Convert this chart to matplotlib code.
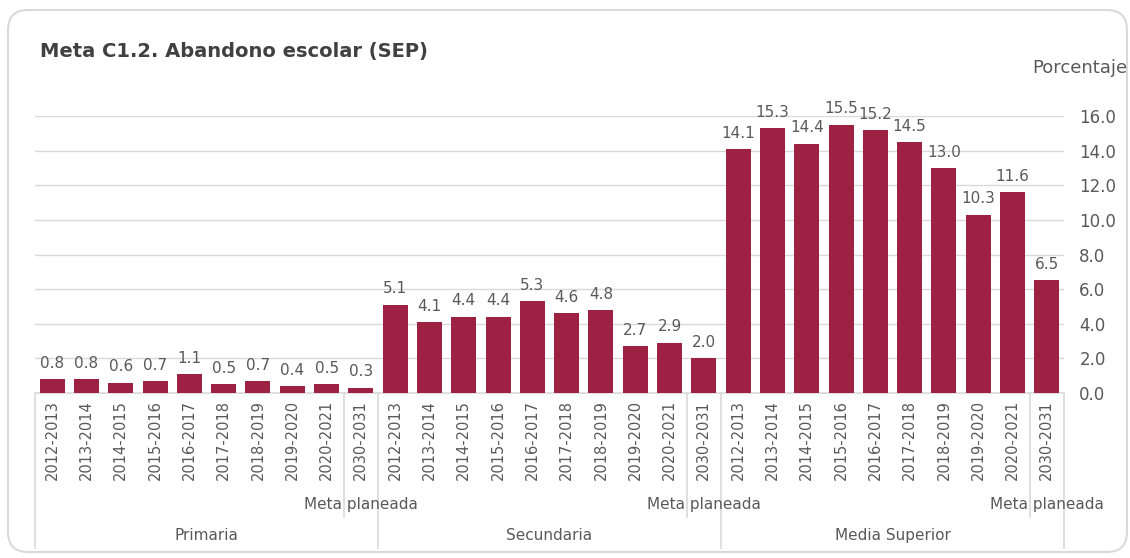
import matplotlib.pyplot as plt
from matplotlib.patches import FancyBboxPatch
from matplotlib.transforms import IdentityTransform, blended_transform_factory

plt.rcParams['font.family'] = ['DejaVu Sans']

years = ['2012-2013', '2013-2014', '2014-2015', '2015-2016', '2016-2017',
         '2017-2018', '2018-2019', '2019-2020', '2020-2021', '2030-2031']
groups = ['Primaria', 'Secundaria', 'Media Superior']
primaria = [0.8, 0.8, 0.6, 0.7, 1.1, 0.5, 0.7, 0.4, 0.5, 0.3]
secundaria = [5.1, 4.1, 4.4, 4.4, 5.3, 4.6, 4.8, 2.7, 2.9, 2.0]
media_superior = [14.1, 15.3, 14.4, 15.5, 15.2, 14.5, 13.0, 10.3, 11.6, 6.5]

values = primaria + secundaria + media_superior
labels = years * 3
n = len(years)

bar_color = '#9D2143'
text_gray = '#595959'
line_gray = '#d9d9d9'

fig = plt.figure(figsize=(11.3, 5.58), dpi=100)
ax = fig.add_axes([0.031, 0.2957, 0.9106, 0.4964])

x = list(range(len(values)))
bars = ax.bar(x, values, width=0.73, color=bar_color, zorder=3)
for xi, v in zip(x, values):
    ax.annotate(f'{v:.1f}', (xi, v), xytext=(0, 6), textcoords='offset points',
                ha='center', va='bottom', fontsize=11, color=text_gray,
                annotation_clip=False)

ax.set_xlim(-0.5, len(values) - 0.5)
ax.set_ylim(0, 16)
ax.set_yticks([0, 2, 4, 6, 8, 10, 12, 14, 16])
ax.set_yticklabels([f'{t:.1f}' for t in ax.get_yticks()])
ax.yaxis.tick_right()
ax.tick_params(axis='y', length=0, pad=11, labelsize=12, labelcolor=text_gray)
ax.grid(axis='y', color=line_gray, lw=1, zorder=0)
ax.set_xticks(x)
ax.set_xticklabels(labels, rotation=90, fontsize=10.5, color=text_gray)
ax.tick_params(axis='x', length=0, pad=5)
for s in ['top', 'right', 'left']:
    ax.spines[s].set_visible(False)
ax.spines['bottom'].set_color(line_gray)
ax.spines['bottom'].set_linewidth(1.2)

# category separators under the axis
tr = blended_transform_factory(ax.transData, ax.transAxes)
for g in range(len(groups) + 1):
    xb = g * n - 0.5
    ax.plot([xb, xb], [0, -0.56], transform=tr, color=line_gray, lw=1.2, clip_on=False)
for g, name in enumerate(groups):
    xm = g * n + n - 1.5
    ax.plot([xm, xm], [0, -0.448], transform=tr, color=line_gray, lw=1.2, clip_on=False)
    ax.text(g * n + n - 1, -0.404, 'Meta planeada', transform=tr, ha='center', va='center',
            fontsize=11, color=text_gray)
    ax.text(g * n + (n - 1) / 2, -0.516, name, transform=tr, ha='center', va='center',
            fontsize=11, color=text_gray)

fig.text(40 / 1130, 1 - 52 / 558, 'Meta C1.2. Abandono escolar (SEP)', fontsize=14,
         fontweight='bold', color='#404040', ha='left', va='center')
fig.text(1127 / 1130, 1 - 68 / 558, 'Porcentaje', fontsize=13, color=text_gray,
         ha='right', va='center')

card = FancyBboxPatch((8, 6), 1119, 542, boxstyle='round,pad=0,rounding_size=20',
                      transform=IdentityTransform(), ec=line_gray, fc='none', lw=1.5)
fig.add_artist(card)

fig.savefig('out.png', dpi=100)
